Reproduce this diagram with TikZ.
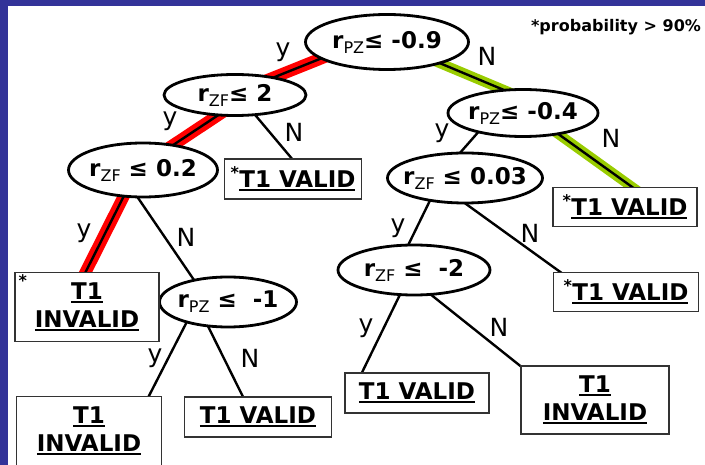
\documentclass[tikz,border=0pt]{standalone}
\usepackage{fontspec}
\setmainfont{DejaVu Sans}
\usetikzlibrary{shapes.geometric,calc,backgrounds}
\definecolor{framebl}{RGB}{51,51,153}
\definecolor{hired}{RGB}{255,0,0}
\definecolor{higreen}{RGB}{153,204,0}
\newcommand{\ulb}[1]{\leavevmode\setbox0\hbox{#1}\rlap{\rule[-4pt]{\wd0}{2.5pt}}\box0}
\newcommand{\sbx}[1]{\raisebox{-5pt}{\fontsize{16}{16}\selectfont\mdseries #1}}
\begin{document}
\begin{tikzpicture}[x=1pt,y=-1pt,
  cond/.style={ellipse,draw,line width=2.8,fill=white,inner xsep=-10pt,inner ysep=0pt,font=\fontsize{23}{26}\selectfont\bfseries},
  leafbox/.style={rectangle,draw=black!80,line width=1.4,fill=white,inner sep=0pt,align=center,font=\fontsize{23}{28}\selectfont\bfseries},
  yn/.style={inner sep=0pt,font=\fontsize{25}{25}\selectfont},
  link/.style={line width=2.4},
  redpath/.style={hired,line width=12},
  greenpath/.style={higreen,line width=10}]

\useasboundingbox (0,0) rectangle (705,465);
\fill[framebl] (0,0) rectangle (8,465);
\fill[framebl] (0,0) rectangle (705,6);

\node[cond,minimum width=163,minimum height=55] (root) at (387,42) {r\sbx{PZ}≤\ -0.9};
\node[cond,minimum width=142,minimum height=41] (zftwo) at (235,95) {r\sbx{ZF}≤\ 2};
\node[cond,minimum width=149,minimum height=54] (zfa) at (143,170) {r\sbx{ZF} ≤\ 0.2};
\node[cond,minimum width=150,minimum height=47] (pzb) at (523,113) {r\sbx{PZ}≤\ -0.4};
\node[cond,minimum width=155,minimum height=50] (zfb) at (465,178) {r\sbx{ZF} ≤\ 0.03};
\node[cond,minimum width=137,minimum height=50] (pzc) at (228,302) {r\sbx{PZ} ≤\ \ -1};
\node[cond,minimum width=152,minimum height=50] (zfc) at (414,270) {r\sbx{ZF} ≤\ \ -2};

\node[leafbox,minimum width=137,minimum height=40] (va) at (293,179) {\textsuperscript{*}\ulb{T1 VALID}};
\node[leafbox,minimum width=144,minimum height=39] (vc) at (625,207) {\textsuperscript{*}\ulb{T1 VALID}};
\node[leafbox,minimum width=145,minimum height=39] (vd) at (626,292) {\textsuperscript{*}\ulb{T1 VALID}};
\node[leafbox,minimum width=147,minimum height=40] (vb) at (258,417) {\ulb{T1 VALID}};
\node[leafbox,minimum width=144,minimum height=40] (ve) at (417,393) {\ulb{T1 VALID}};
\node[leafbox,minimum width=144,minimum height=69] (inva) at (87,307) {\ulb{T1}\\\ulb{INVALID}};
\node[leafbox,minimum width=145,minimum height=69] (invb) at (89,431) {\ulb{T1}\\\ulb{INVALID}};
\node[leafbox,minimum width=148,minimum height=68] (invc) at (595,400) {\ulb{T1}\\\ulb{INVALID}};
\node[anchor=north west,inner sep=0pt,font=\fontsize{16}{16}\selectfont\bfseries] (stara) at ($(inva.north west)+(4,3)$) {*};

\node[inner sep=0pt,font=\fontsize{16}{16}\selectfont\bfseries] (note) at (616,27) {*probability > 90\%};

\node[yn] (ya) at (283,52) {y};
\node[yn] (na) at (487,56) {N};
\node[yn] (yb) at (170,121) {y};
\node[yn] (nb) at (294,132) {N};
\node[yn] (yc) at (84,233) {y};
\node[yn] (nc) at (186,237) {N};
\node[yn] (yd) at (155,358) {y};
\node[yn] (nd) at (250,358) {N};
\node[yn] (ye) at (442,133) {y};
\node[yn] (ne) at (611,138) {N};
\node[yn] (yf) at (398,228) {y};
\node[yn] (nf) at (530,233) {N};
\node[yn] (yg) at (366,328) {y};
\node[yn] (ng) at (499,327) {N};

\begin{scope}[on background layer]
\draw[redpath] ($(root)+(0,-10)$) -- ($(zftwo)+(0,-2)$);
\draw[redpath] ($(zftwo)+(0,9)$) -- ($(zfa)+(0,-5)$);
\draw[redpath] ($(zfa)+(-6,0)$) -- ($(inva)+(-19,0)$);
\draw[greenpath] ($(root)+(0,-1)$) -- ($(pzb)+(0,-15)$);
\draw[greenpath] ($(pzb)+(6,0)$) -- ($(vc)+(35,0)$);
\draw[link] ($(root)+(0,-10)$) -- ($(zftwo)+(0,-2)$);
\draw[link] ($(zftwo)+(0,9)$) -- ($(zfa)+(0,-5)$);
\draw[link] ($(zfa)+(-6,0)$) -- ($(inva)+(-19,0)$);
\draw[link] ($(root)+(0,-1)$) -- ($(pzb)+(0,-15)$);
\draw[link] ($(pzb)+(6,0)$) -- ($(vc)+(35,0)$);
\draw[link] ($(zftwo)+(0,-4)$) -- ($(va)+(16,0)$);
\draw[link] ($(zfa)+(-24,0)$) -- ($(pzc)+(-19,0)$);
\draw[link] ($(pzc)+(-31,0)$) -- ($(invb)+(42,0)$);
\draw[link] ($(pzc)+(-32,0)$) -- ($(vb)+(-5,0)$);
\draw[link] ($(pzb)+(-28,0)$) -- ($(zfb)+(-27,0)$);
\draw[link] ($(zfb)+(-24,0)$) -- ($(zfc)+(-18,0)$);
\draw[link] ($(zfb)+(-35,0)$) -- ($(vd)+(-38,0)$);
\draw[link] ($(zfc)+(-2,0)$) -- ($(ve)+(-65,0)$);
\draw[link] ($(zfc)+(-14,0)$) -- ($(invc)+(-32,0)$);
\end{scope}

\end{tikzpicture}
\end{document}
